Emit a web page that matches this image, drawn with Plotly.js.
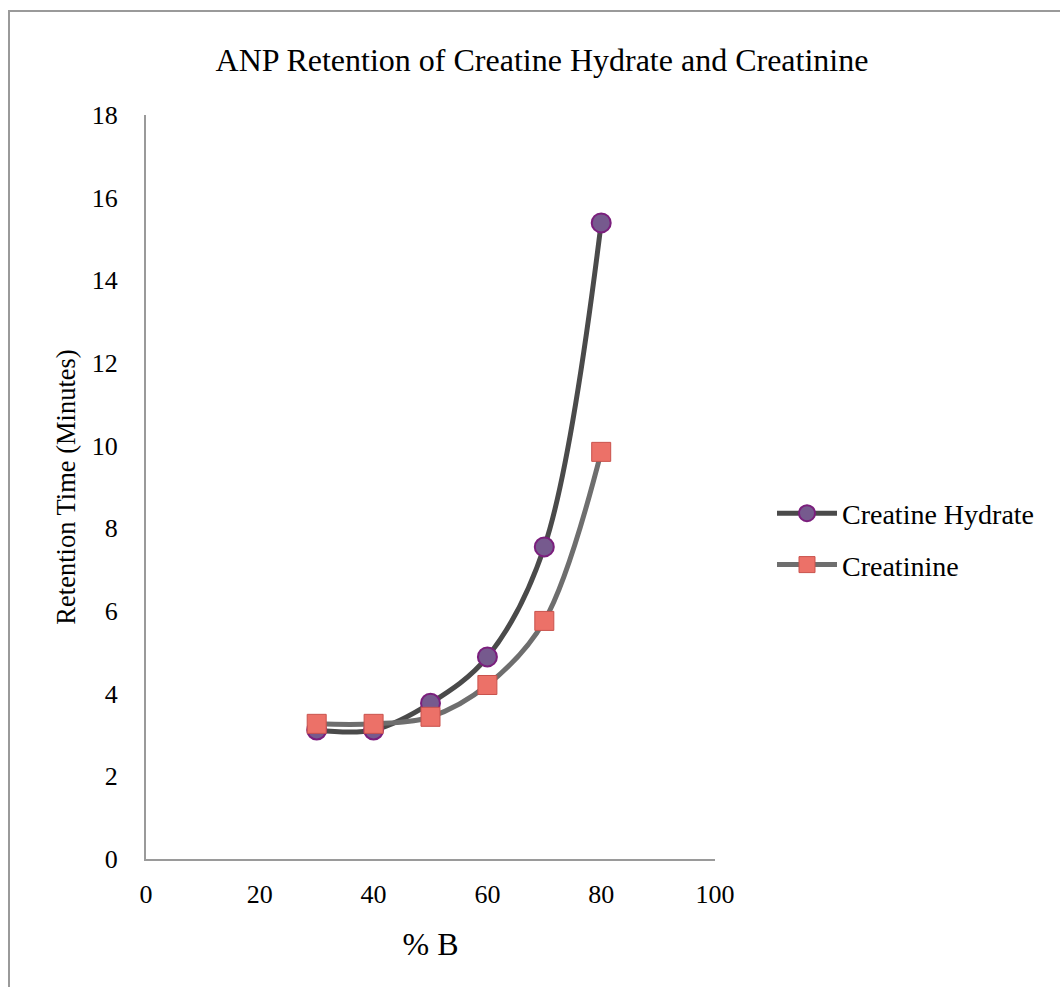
<!DOCTYPE html>
<html>
<head>
<meta charset="utf-8">
<script src="https://cdn.plot.ly/plotly-3.0.1.min.js"></script>
<style>
html,body{margin:0;padding:0;background:#fff;}
#chart{width:1060px;height:987px;}
</style>
</head>
<body>
<div id="chart"></div>
<script>
const percentB = [30, 40, 50, 60, 70, 80];
const creatineHydrate = [3.12, 3.12, 3.77, 4.89, 7.55, 15.39];
const creatinine = [3.27, 3.27, 3.44, 4.21, 5.76, 9.85];
const seriesNames = ["Creatine Hydrate", "Creatinine"];
const xTicks = [0, 20, 40, 60, 80, 100];
const yTicks = [0, 2, 4, 6, 8, 10, 12, 14, 16, 18];

const W = 1060, H = 987;
const L = 146, R = 715, T = 115, B = 859;
const pw = R - L, ph = B - T;

const traces = [
  {
    x: percentB, y: creatineHydrate, name: seriesNames[0], legendgroup: "g1",
    type: "scatter", mode: "lines+markers",
    line: {color: "#4a4a4a", width: 5, shape: "spline", smoothing: 1},
    marker: {symbol: "circle", size: 19, color: "#765a8e", line: {color: "#7b1f7d", width: 2}}
  },
  {
    x: percentB, y: creatinine, name: seriesNames[1], legendgroup: "g2",
    type: "scatter", mode: "lines+markers",
    line: {color: "#6e6e6e", width: 5, shape: "spline", smoothing: 1},
    marker: {symbol: "square", size: 19, color: "#ec7168", line: {color: "#c9524c", width: 1}}
  }
];

const font = "'Liberation Serif', 'DejaVu Serif', serif";

const layout = {
  width: W, height: H,
  margin: {l: L, r: W - R, t: T, b: H - B, pad: 0},
  paper_bgcolor: "#fff", plot_bgcolor: "#fff",
  font: {family: font, color: "#000", size: 26},
  title: {text: "ANP Retention of Creatine Hydrate and Creatinine",
          font: {family: font, size: 32, color: "#000"},
          x: 542 / W, xref: "container", xanchor: "center",
          y: 1 - 60 / H, yref: "container", yanchor: "middle"},
  xaxis: {
    range: [0, 100], tickvals: xTicks, ticktext: xTicks.map(String),
    showgrid: false, zeroline: false, showline: true, linecolor: "#9a9a9a", linewidth: 2,
    ticks: "", ticklen: 0, ticklabelstandoff: 11, tickfont: {family: font, size: 26},
    title: {text: "% B", font: {family: font, size: 32}, standoff: 24}
  },
  yaxis: {
    range: [0, 18], tickvals: yTicks, ticktext: yTicks.map(String),
    showgrid: false, zeroline: false, showline: true, linecolor: "#9a9a9a", linewidth: 2,
    ticks: "", ticklen: 0, ticklabelstandoff: 21, tickfont: {family: font, size: 26},
    title: {text: "Retention Time (Minutes)", font: {family: font, size: 26.5}, standoff: 9}
  },
  showlegend: true,
  legend: {
    x: (772 - L) / pw, xanchor: "left", y: (B - 539) / ph, yanchor: "middle",
    font: {family: font, size: 28, color: "#000"},
    traceorder: "grouped", tracegroupgap: 12, itemwidth: 60, bgcolor: "rgba(0,0,0,0)"
  },
  shapes: [{
    type: "rect", xref: "paper", yref: "paper",
    x0: (9 - L) / pw, x1: (W + 20 - L) / pw,
    y0: (B - (H + 20)) / ph, y1: (B - 11) / ph,
    line: {color: "#9a9a9a", width: 2}, fillcolor: "rgba(0,0,0,0)", layer: "below"
  }]
};

Plotly.newPlot("chart", traces, layout, {displayModeBar: false, staticPlot: true});
</script>
</body>
</html>
